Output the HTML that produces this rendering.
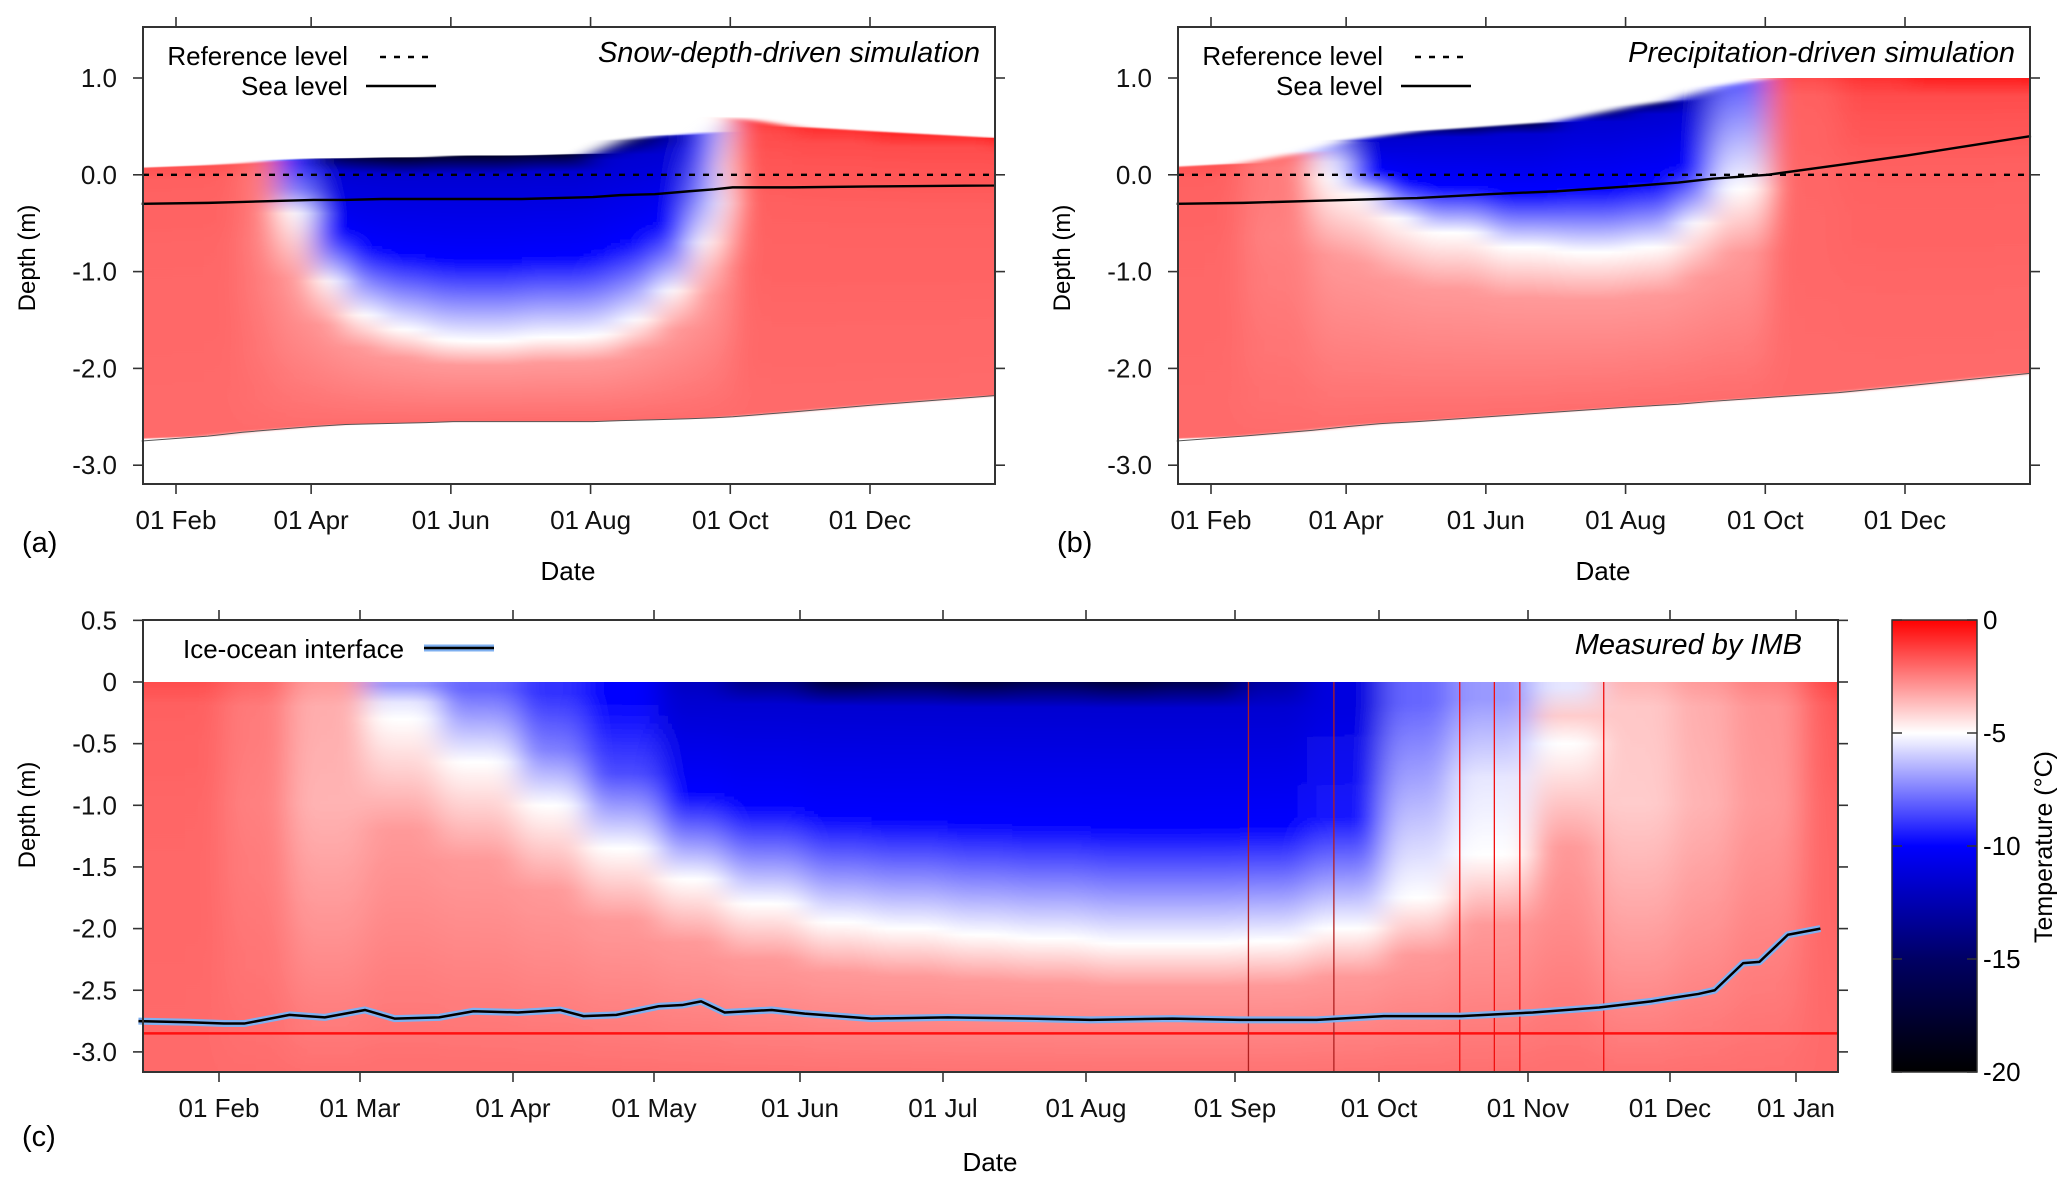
<!DOCTYPE html>
<html><head><meta charset="utf-8"><style>
html,body{margin:0;padding:0;background:#fff;}
svg{display:block;font-family:"Liberation Sans",sans-serif;}
</style></head><body>
<svg id="fig" width="2067" height="1184" viewBox="0 0 2067 1184" xmlns="http://www.w3.org/2000/svg">
<defs id="defs">
<filter id="hblur" x="-5%" y="-5%" width="110%" height="110%"><feGaussianBlur stdDeviation="14 0"/></filter>
</defs>
<g id="root"></g>
</svg>
<script>
// ---------- DATA ----------
const aDays   = [16,45,60,75,91,105,121,140,152,182,213,225,240,255,266,274,300,335,389];
const aTop    = [0.05,0.10,0.12,0.15,0.17,0.17,0.18,0.18,0.20,0.20,0.22,0.35,0.40,0.42,0.45,0.60,0.50,0.45,0.38];
const aBottom = [-2.75,-2.70,-2.66,-2.63,-2.60,-2.58,-2.57,-2.56,-2.55,-2.55,-2.55,-2.54,-2.53,-2.52,-2.51,-2.50,-2.45,-2.38,-2.28];
const aSea    = [-0.30,-0.29,-0.28,-0.27,-0.26,-0.26,-0.25,-0.25,-0.25,-0.25,-0.23,-0.21,-0.20,-0.17,-0.15,-0.13,-0.13,-0.12,-0.11];
const aT0     = [-1.5,-1.5,-2,-9,-15,-17,-18,-18,-18,-18,-18,-17,-13,-9,-6,-1,-0.8,-0.6,-0.4];
const aIso    = [null,null,null,-0.4,-1.1,-1.45,-1.6,-1.7,-1.72,-1.68,-1.65,-1.5,-1.2,-0.7,-0.3,null,null,null,null];
const bDays   = [16,45,75,91,105,121,152,182,213,235,250,274,305,335,389];
const bTop    = [0.05,0.12,0.25,0.35,0.40,0.45,0.50,0.55,0.70,0.78,0.90,1.00,1.00,1.00,1.00];
const bBottom = [-2.75,-2.70,-2.64,-2.60,-2.57,-2.55,-2.50,-2.45,-2.40,-2.37,-2.34,-2.30,-2.25,-2.18,-2.05];
const bSea    = [-0.30,-0.29,-0.27,-0.26,-0.25,-0.24,-0.20,-0.17,-0.12,-0.08,-0.04,0.0,0.10,0.20,0.40];
const bT0     = [-1.5,-2,-7,-12,-15,-16,-17,-17,-17,-13,-8,-1.5,-1,-0.6,-0.4];
const bIso    = [null,null,-0.05,-0.2,-0.45,-0.6,-0.75,-0.8,-0.75,-0.5,-0.15,null,null,null,null];
const cDays   = [15,32,45,60,75,91,105,121,135,152,166,182,196,213,227,244,258,274,288,305,319,335,349,366,375];
const cT0     = [-1.5,-2,-3,-7,-8,-9,-10,-12,-14,-17,-16,-17,-16,-17,-16,-13,-11,-8,-7,-5.5,-3.5,-3,-2.5,-1.5,-1];
const cIso    = [null,null,null,-0.3,-0.65,-1.0,-1.35,-1.6,-1.8,-1.95,-2.0,-2.05,-2.08,-2.12,-2.12,-2.1,-2.0,-1.75,-1.4,-0.5,null,null,null,null,null];
const ifDays  = [15,25,32,36,45,52,60,66,75,82,91,100,105,112,121,126,130,135,145,152,166,182,200,213,230,244,260,274,290,305,319,330,335,341,345,352,356,363,371];
const ifDepth = [-2.75,-2.76,-2.77,-2.77,-2.70,-2.72,-2.66,-2.73,-2.72,-2.67,-2.68,-2.66,-2.71,-2.70,-2.63,-2.62,-2.59,-2.68,-2.66,-2.69,-2.73,-2.72,-2.73,-2.74,-2.73,-2.74,-2.74,-2.71,-2.71,-2.68,-2.64,-2.59,-2.56,-2.53,-2.5,-2.28,-2.27,-2.05,-2.0];
const cRedLineDepth = -2.85;
const cSpikeDays = [245.8,263.6,289.8,297,302.3,320];
const monthNamesAB = ["01 Feb","01 Apr","01 Jun","01 Aug","01 Oct","01 Dec"];
const monthDaysAB  = [31,90,151,212,273,334];
const monthNamesC  = ["01 Feb","01 Mar","01 Apr","01 May","01 Jun","01 Jul","01 Aug","01 Sep","01 Oct","01 Nov","01 Dec","01 Jan"];
const monthDaysC   = [31,59,90,120,151,181,212,243,273,304,334,365];
const yTicksAB = [1.0,0.0,-1.0,-2.0,-3.0];
const yTickLabelsAB = ["1.0","0.0","-1.0","-2.0","-3.0"];
const yTicksC = [0.5,0,-0.5,-1.0,-1.5,-2.0,-2.5,-3.0];
const yTickLabelsC = ["0.5","0","-0.5","-1.0","-1.5","-2.0","-2.5","-3.0"];
const cbTicks = [0,-5,-10,-15,-20];

// ---------- HELPERS ----------
const NS="http://www.w3.org/2000/svg";
const root=document.getElementById('root');
const defs=document.getElementById('defs');
function el(tag,attrs,parent){const e=document.createElementNS(NS,tag);for(const k in attrs)e.setAttribute(k,attrs[k]);(parent||root).appendChild(e);return e;}
function txt(s,attrs,parent){const e=el('text',attrs,parent);e.textContent=s;return e;}
function cmap(T){
  T=Math.max(-20,Math.min(0,T));
  let r,g,b;
  if(T>=-5){const f=-T/5;r=255;g=Math.round(255*f);b=Math.round(255*f);}
  else if(T>=-10){const f=(-T-5)/5;r=Math.round(255*(1-f));g=r;b=255;}
  else if(T>=-15){const f=(-T-10)/5;r=0;g=0;b=Math.round(255-155*f);}
  else {const f=(-T-15)/5;r=0;g=0;b=Math.round(100*(1-f));}
  return `rgb(${r},${g},${b})`;
}
let gid=0;
function columnGradient(yTopPx,yBotPx,stops){
  const id='g'+(gid++);
  const lg=el('linearGradient',{id:id,gradientUnits:'userSpaceOnUse',x1:0,x2:0,y1:yTopPx,y2:yBotPx},defs);
  stops.forEach(s=>el('stop',{offset:s[0],'stop-color':cmap(s[1])},lg));
  return id;
}
function profileStops(top,bot,T0,iso){
  const H=top-bot;const st=[];
  if(iso!==null && iso!==undefined && T0<-5){
    const f=Math.max(0.01,Math.min(0.98,(top-iso)/H));
    const core=Math.max(T0,-11.5);
    st.push([0,T0]);st.push([f*0.1,core]);st.push([f*0.55,core+1.5]);st.push([f,-5]);
    st.push([Math.min(0.99,f+(1-f)*0.3),-3]);st.push([1,-2.1]);
  } else {
    st.push([0,T0]);st.push([0.06,Math.min(-1.5,T0-0.4)]);
    st.push([0.3,Math.min(-1.9,T0-0.5)]);st.push([1,-2.1]);
  }
  return st;
}
function drawPanel(P){
  const g=el('g',{});
  
  
  const X=P.X, Y=v=>P.y0-v*P.pxM;
  const clipId='clip'+P.name;
  const cp=el('clipPath',{id:clipId},defs);
  el('rect',{x:P.L,y:P.T,width:P.R-P.L,height:P.B-P.T},cp);
  const outer=el('g',{'clip-path':`url(#${clipId})`},g);
  const hm=el('g',{filter:'url(#hblur)'},outer);
  
  
  const n=P.days.length;
  for(let i=0;i<n-1;i++){
    let xa=X(P.days[i]),xb=X(P.days[i+1])+0.8;
    if(i===0) xa-=60;
    const ta=P.top[i],tb=P.top[i+1],ba=P.bot[i],bb=P.bot[i+1];
    const gidc=columnGradient(Y(Math.max(ta,tb)),Y(Math.min(ba,bb)),profileStops(Math.max(ta,tb),Math.min(ba,bb),P.T0[i],P.iso[i]));
    const poly=el('polygon',{points:`${xa},${Y(ta)} ${xb},${Y(tb)} ${xb},${Y(bb)} ${xa},${Y(ba)}`,fill:`url(#${gidc})`},hm);
    
    
  }
  {const i=n-1;const xa=X(P.days[i]);const gidc=columnGradient(Y(P.top[i]),Y(P.bot[i]),profileStops(P.top[i],P.bot[i],P.T0[i],P.iso[i]));
   const r=el('rect',{x:xa,y:Y(P.top[i]),width:Math.max(0,P.R-xa)+60,height:Y(P.bot[i])-Y(P.top[i]),fill:`url(#${gidc})`},hm);
   }
  return {g,X,Y,hm};
}
function axes(P,g,xNames,xDays,yVals,yLabels,X,Y){
  const f=el('rect',{x:P.L,y:P.T,width:P.R-P.L,height:P.B-P.T,fill:'none',stroke:'#333','stroke-width':2},g);
  
  xDays.forEach((d,i)=>{
    const x=X(d);
    el('line',{x1:x,x2:x,y1:P.T-10,y2:P.T,stroke:'#333','stroke-width':1.6},g);
    el('line',{x1:x,x2:x,y1:P.B,y2:P.B+10,stroke:'#333','stroke-width':1.6},g);
    const t=txt(xNames[i],{x:x,y:P.B+45,'font-size':26,'text-anchor':'middle',fill:'#111'},g);
    
  });
  yVals.forEach((v,i)=>{
    const y=Y(v);
    el('line',{x1:P.L-10,x2:P.L,y1:y,y2:y,stroke:'#333','stroke-width':1.6},g);
    el('line',{x1:P.R,x2:P.R+10,y1:y,y2:y,stroke:'#333','stroke-width':1.6},g);
    const t=txt(yLabels[i],{x:P.L-26,y:y+9,'font-size':26,'text-anchor':'end',fill:'#111'},g);
    
  });
}

// ---------- PANELS A & B ----------
function panelAB(name,offset,days,top,bot,sea,T0,iso,title,letter){
  const pxDay=694/303;
  const P={name:name,L:143+offset,R:995+offset,T:27,B:484,X:d=>176+offset+(d-31)*pxDay,y0:174.8,pxM:96.8,days:days,top:top,bot:bot,T0:T0,iso:iso};
  const {g,X,Y,hm}=drawPanel(P);
  const ref=el('line',{x1:P.L,x2:P.R,y1:Y(0),y2:Y(0),stroke:'#000','stroke-width':2.4,'stroke-dasharray':'6,8'},g);
  
  const sp=el('polyline',{points:days.map((d,i)=>`${X(d)},${Y(sea[i])}`).join(' ')+` ${P.R},${Y(sea[sea.length-1])}`,fill:'none',stroke:'#000','stroke-width':2.4},g);
  
  const be=el('polyline',{points:days.map((d,i)=>`${X(d)},${Y(bot[i])}`).join(' '),fill:'none',stroke:'#555','stroke-width':1},g);
  
  axes(P,g,monthNamesAB,monthDaysAB,yTicksAB,yTickLabelsAB,X,Y);
  const lg=el('g',{},g);
  let t=txt('Reference level',{x:348+offset,y:65,'font-size':26,'text-anchor':'end'},lg);
  el('line',{x1:380+offset,x2:431+offset,y1:57,y2:57,stroke:'#000','stroke-width':2.4,'stroke-dasharray':'6,8'},lg);
  t=txt('Sea level',{x:348+offset,y:95,'font-size':26,'text-anchor':'end'},lg);
  el('line',{x1:366+offset,x2:436+offset,y1:86,y2:86,stroke:'#000','stroke-width':2.4},lg);
  t=txt(title,{x:980+offset,y:62,'font-size':29,'font-style':'italic','text-anchor':'end'},g);
  t=txt('Depth (m)',{x:0,y:0,'font-size':24,'text-anchor':'middle',transform:`translate(${35+offset},${258}) rotate(-90)`},g);
  t=txt('Date',{x:568+offset,y:580,'font-size':26,'text-anchor':'middle'},g);
  t=txt(letter,{x:22+offset,y:552,'font-size':29},g);
}
panelAB('panel-a',0,aDays,aTop,aBottom,aSea,aT0,aIso,'Snow-depth-driven simulation','(a)');
panelAB('panel-b',1035,bDays,bTop,bBottom,bSea,bT0,bIso,'Precipitation-driven simulation','(b)');

// ---------- PANEL C ----------
(function(){
  // axis calibration: piecewise-linear date axis anchored on month ticks
  const anchorPx=[219,360,513,654,800,943,1086,1235,1379,1528,1670,1796];
  function X(d){
    const D=monthDaysC;let i=0;
    if(d<=D[0]) i=0; else if(d>=D[D.length-1]) i=D.length-2; else {while(d>D[i+1])i++;}
    const s=(anchorPx[i+1]-anchorPx[i])/(D[i+1]-D[i]);
    return anchorPx[i]+(d-D[i])*s;
  }
  const P={name:'panel-c',L:143,R:1838,T:620,B:1072,X:X,y0:682,pxM:123.3,days:cDays,top:cDays.map(()=>0),bot:cDays.map(()=>-3.3),T0:cT0,iso:cIso};
  const {g,Y,hm}=drawPanel(P);
  const rl=el('line',{x1:P.L,x2:P.R,y1:Y(cRedLineDepth),y2:Y(cRedLineDepth),stroke:'#ff1010','stroke-width':2.5},g);
  
  cSpikeDays.forEach((d,i)=>{
    const l=el('line',{x1:X(d),x2:X(d),y1:Y(0),y2:P.B,stroke:i<2?'#b02020':'#f01010','stroke-width':1.3},g);
    
  });
  const pts=ifDays.map((d,i)=>`${X(d)},${Y(ifDepth[i])}`).join(' ');
  let l=el('polyline',{points:pts,fill:'none',stroke:'#7fb0f0','stroke-width':7,'stroke-linejoin':'round'},g);
  
  l=el('polyline',{points:pts,fill:'none',stroke:'#000','stroke-width':2.5,'stroke-linejoin':'round'},g);
  
  axes(P,g,monthNamesC,monthDaysC,yTicksC,yTickLabelsC,X,Y);
  const lg=el('g',{},g);
  let t=txt('Ice-ocean interface',{x:183,y:658,'font-size':26},lg);
  el('line',{x1:424,x2:494,y1:648,y2:648,stroke:'#7fb0f0','stroke-width':7},lg);
  el('line',{x1:424,x2:494,y1:648,y2:648,stroke:'#000','stroke-width':2.5},lg);
  t=txt('Measured by IMB',{x:1802,y:654,'font-size':29,'font-style':'italic','text-anchor':'end'},g);
  t=txt('Depth (m)',{x:0,y:0,'font-size':24,'text-anchor':'middle',transform:'translate(35,815) rotate(-90)'},g);
  t=txt('Date',{x:990,y:1171,'font-size':26,'text-anchor':'middle'},g);
  t=txt('(c)',{x:22,y:1146,'font-size':29},g);
})();

// ---------- COLORBAR ----------
(function(){
  const g=el('g',{});
  const T=620,B=1072,L=1892,R=1977;
  const lg=el('linearGradient',{id:'cbg',x1:0,x2:0,y1:0,y2:1},defs);
  for(let i=0;i<=40;i++){const v=-i/2;el('stop',{offset:i/40,'stop-color':cmap(v)},lg);}
  el('rect',{x:L,y:T,width:R-L,height:B-T,fill:'url(#cbg)',stroke:'#333','stroke-width':1.5},g);
  cbTicks.forEach(v=>{
    const y=T+(-v/20)*(B-T);
    el('line',{x1:L,x2:L+10,y1:y,y2:y,stroke:'#333','stroke-width':1.5},g);
    el('line',{x1:R-10,x2:R,y1:y,y2:y,stroke:'#333','stroke-width':1.5},g);
    const t=txt(String(v),{x:1983,y:y+9,'font-size':26},g);
    
  });
  const t=txt('Temperature (°C)',{x:0,y:0,'font-size':25,'text-anchor':'middle',transform:'translate(2052,847) rotate(-90)'},g);
  
})();
</script>
</body></html>
